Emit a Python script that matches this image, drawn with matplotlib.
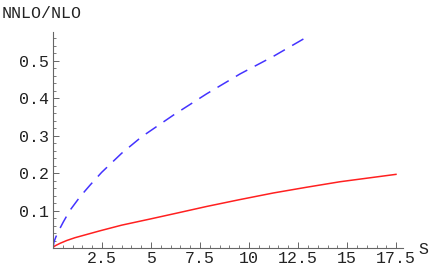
import matplotlib
matplotlib.use("Agg")
import matplotlib.pyplot as plt
from matplotlib.ticker import MultipleLocator

# values
s_blue = [0.0, 0.05, 0.15, 0.27, 0.53, 0.87, 1.38, 1.89, 2.48, 3.5, 4.52, 6.14, 7.84, 9.54, 11.24, 12.86]
r_blue = [0.0, 0.016, 0.030, 0.044, 0.070, 0.101, 0.137, 0.168, 0.202, 0.253, 0.297, 0.355, 0.412, 0.465, 0.512, 0.561]

s_red = [0.0, 0.05, 0.15, 0.36, 0.7, 1.12, 2.4, 3.5, 4.95, 6.3, 7.84, 9.5, 11.24, 12.9, 14.64, 17.53]
r_red = [0.0, 0.004, 0.007, 0.0125, 0.020, 0.0275, 0.046, 0.061, 0.0774, 0.093, 0.111, 0.129, 0.147, 0.162, 0.177, 0.197]

xticks = [2.5, 5, 7.5, 10, 12.5, 15, 17.5]
xlabels = ["2.5", "5", "7.5", "10", "12.5", "15", "17.5"]
yticks = [0.1, 0.2, 0.3, 0.4, 0.5]
ylabels = ["0.1", "0.2", "0.3", "0.4", "0.5"]

W, H = 437, 270
fig = plt.figure(figsize=(W / 100, H / 100), dpi=100)
ax = fig.add_axes([53 / W, 22 / H, 350 / W, 216 / H])

font = "Liberation Mono"
axcol = "#666666"

ax.plot(s_red, r_red, color="#ff2020", lw=1.1, solid_capstyle="butt")
ax.plot(s_blue, r_blue, color="#4433ff", lw=1.1, dashes=(8.5, 5.5))

ax.set_xlim(0, 17.85)
ax.set_ylim(0, 0.577)
for side in ["top", "right"]:
    ax.spines[side].set_visible(False)
for side in ["left", "bottom"]:
    ax.spines[side].set_color(axcol)
    ax.spines[side].set_linewidth(0.8)

ax.set_xticks(xticks)
ax.set_xticklabels(xlabels, fontfamily=font, fontsize=12, color="#222222")
ax.set_yticks(yticks)
ax.set_yticklabels(ylabels, fontfamily=font, fontsize=12, color="#222222")
ax.xaxis.set_minor_locator(MultipleLocator(0.5))
ax.yaxis.set_minor_locator(MultipleLocator(0.02))
ax.tick_params(which="major", direction="in", length=4, width=0.7, color=axcol, pad=2)
ax.tick_params(which="minor", direction="in", length=2, width=0.6, color=axcol)
ax.tick_params(axis="y", pad=3)

fig.text(2 / W, 1 - 14 / H, "NNLO/NLO", fontfamily=font, fontsize=12, va="center", ha="left", color="#222222")
fig.text(418 / W, 1 - 249 / H, "S", fontfamily=font, fontsize=12, va="center", ha="left", color="#222222")

fig.savefig("out.png", dpi=100)
